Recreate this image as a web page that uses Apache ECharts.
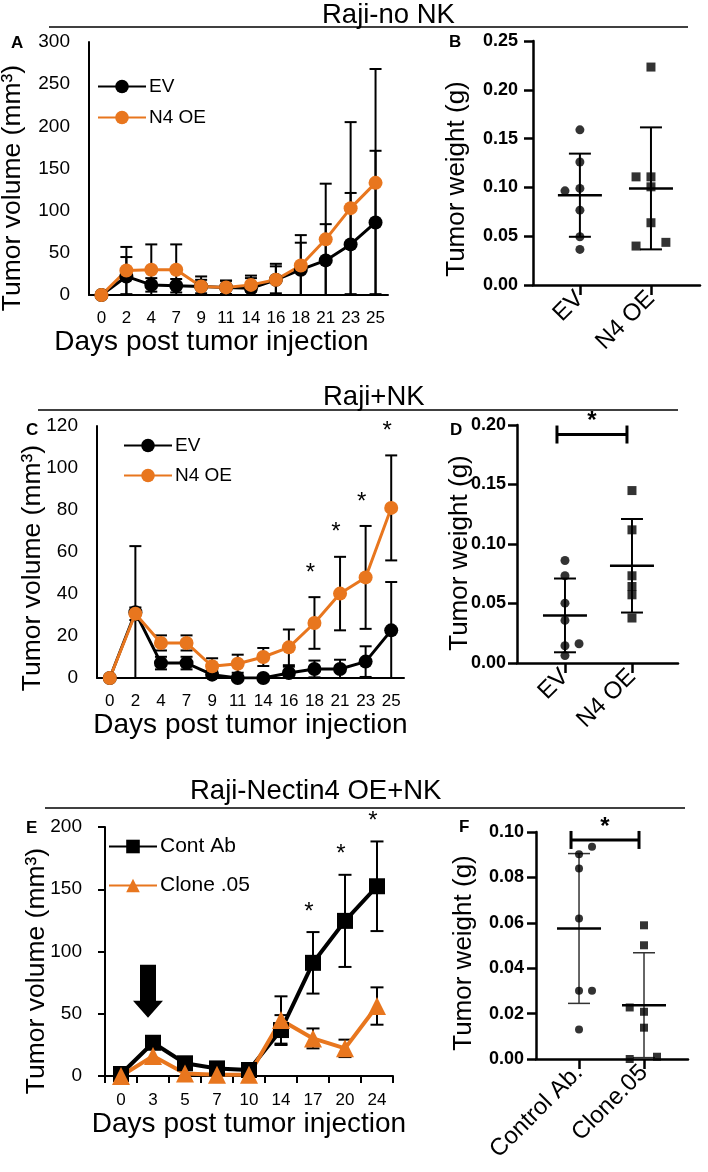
<!DOCTYPE html>
<html><head><meta charset="utf-8">
<script src="https://cdn.jsdelivr.net/npm/echarts@6/dist/echarts.min.js"></script>
<style>html,body{margin:0;padding:0;background:#fff}#c{width:708px;height:1172px}</style>
</head><body><div id="c"></div>
<script>
// ---------- DATA ----------
const daysAC = ['0','2','4','7','9','11','14','16','18','21','23','25'];
// Panel A (Raji-no NK)
const aEV    = [0, 22, 12, 11, 10, 9, 8, 18, 30, 41, 60, 86];
const aEVsd  = [0, 23, 8, 8, 12, 8, 15, 19, 32, 43, 61, 85];
const aN4    = [0, 29, 30, 30, 10, 9, 12, 18, 35, 66, 103, 133];
const aN4sd  = [0, 28, 30, 30, 8, 8, 8, 16, 36, 66, 102, 135];
// Panel C (Raji+NK)
const cEV    = [0, 31.3, 7.1, 7.1, 1.6, 0, 0, 2.4, 4.3, 4.3, 7.8, 22.7];
const cEVsd  = [0, 31.5, 3, 3, 2, 0.5, 0.5, 3, 4, 4.4, 7.3, 23];
const cN4    = [0, 30.6, 16.7, 16.7, 5.6, 6.8, 10, 14.6, 26.2, 40.2, 47.9, 81];
const cN4sd  = [0, 3, 3.6, 3.6, 3.8, 4.3, 4.3, 8.5, 12.3, 17.5, 24.5, 25];
const sigDaysC = ['18','21','23','25'];
// Panel E (Raji-Nectin4 OE+NK)
const daysE  = ['0','3','5','7','10','14','17','20','24'];
const eCont  = [1.6, 26.7, 10.2, 6.1, 4.8, 36.9, 90.9, 124.6, 152.4];
const eContSd= [0, 0, 0, 0, 0, 12, 24.7, 37, 36];
const eClone = [0, 16, 2, 1, 1, 45, 30.2, 22.2, 56.2];
const eCloneSd=[0, 0, 0, 0, 0, 19, 8, 7, 15];
const sigDaysE = ['17','20','24'];
const arrowDay = '3';
// Panel B (tumor weight, Raji-no NK)
const catsBD = ['EV', 'N4 OE'];
const bEV    = [0.159, 0.126, 0.0965, 0.099, 0.0767, 0.0494, 0.0365];
const bEVjit = [0, 0, -0.21, 0, 0, 0, 0];
const bN4    = [0.2233, 0.1108, 0.1108, 0.1006, 0.0638, 0.0399, 0.0437];
const bN4jit = [0, -0.21, 0, 0, 0, -0.21, 0.21];
const bMean  = [0.092, 0.099];
const bSd    = [0.0426, 0.0625];
// Panel D (tumor weight, Raji+NK)
const dEV    = [0.0861, 0.0733, 0.0503, 0.0358, 0.0145, 0.0162, 0.0062];
const dEVjit = [0, 0, 0, 0, 0, 0.21, 0];
const dN4    = [0.1449, 0.1119, 0.0733, 0.0643, 0.0573, 0.0378];
const dN4jit = [0, 0, 0, 0, 0, 0];
const dMean  = [0.040, 0.0817];
const dSd    = [0.031, 0.0393];
const dBracket = 0.192;
// Panel F (tumor weight, Raji-Nectin4 OE+NK)
const catsF  = ['Control Ab.', 'Clone.05'];
const fCtrl  = [0.0935, 0.0902, 0.0839, 0.0619, 0.0301, 0.0301, 0.0130];
const fCtrlJit=[0.2, 0, 0, 0, 0, 0.2, 0];
const fClone = [0.0589, 0.0501, 0.0227, 0.0208, 0.0138, 0.0, 0.001];
const fCloneJit=[0, 0, -0.22, 0, 0, -0.22, 0.2];
const fMean  = [0.0575, 0.0237];
const fSd    = [0.033, 0.0231];
const fBracket = 0.0965;
// Tick labels
const yTicksA = [0, 300, 50];
const yTicksC = [0, 120, 20];
const yTicksE = [0, 200, 50];

// ---------- STYLE ----------
const FONT = "'Liberation Sans', Arial, sans-serif";
const ORANGE = '#E8761E';
const BLACK = '#000';
const VOL_NAME = 'Tumor volume (mm³)';
const WT_NAME = 'Tumor weight (g)';

function errData(vals, sds) {
  return vals.map((v, i) => [i, Math.max(0, v - sds[i]), v + sds[i], sds[i]]);
}
function errRender(capHalf, lw) {
  return function (params, api) {
    const i = api.value(0), lo = api.value(1), hi = api.value(2), sd = api.value(3);
    if (!sd) return null;
    const pH = api.coord([i, hi]), pL = api.coord([i, lo]);
    const st = { stroke: BLACK, lineWidth: lw };
    const ch = [
      { type: 'line', shape: { x1: pH[0], y1: pH[1], x2: pL[0], y2: pL[1] }, style: st },
      { type: 'line', shape: { x1: pH[0] - capHalf, y1: pH[1], x2: pH[0] + capHalf, y2: pH[1] }, style: st }
    ];
    if (lo > 0) ch.push({ type: 'line', shape: { x1: pL[0] - capHalf, y1: pL[1], x2: pL[0] + capHalf, y2: pL[1] }, style: st });
    return { type: 'group', children: ch };
  };
}
function starData(days, sigDays, means, sds) {
  return sigDays.map(d => { const i = days.indexOf(d); return [i, means[i] + sds[i]]; });
}
function starRender(dy, size) {
  return function (params, api) {
    const p = api.coord([api.value(0), api.value(1)]);
    return { type: 'text', x: p[0] - 4, y: p[1] - dy,
      style: { text: '*', fontSize: size, fontFamily: FONT, fill: BLACK, align: 'center', verticalAlign: 'middle' } };
  };
}
function meanSdRender(meanHalf, capHalf, lwMean, lwSd, sdColor) {
  return function (params, api) {
    const x = api.value(0), m = api.value(1), s = api.value(2);
    const pm = api.coord([x, m]), ph = api.coord([x, m + s]), pl = api.coord([x, Math.max(0, m - s)]);
    const sst = { stroke: sdColor, lineWidth: lwSd };
    return { type: 'group', children: [
      { type: 'line', shape: { x1: ph[0], y1: ph[1], x2: pl[0], y2: pl[1] }, style: sst },
      { type: 'line', shape: { x1: ph[0] - capHalf, y1: ph[1], x2: ph[0] + capHalf, y2: ph[1] }, style: sst },
      { type: 'line', shape: { x1: pl[0] - capHalf, y1: pl[1], x2: pl[0] + capHalf, y2: pl[1] }, style: sst },
      { type: 'line', shape: { x1: pm[0] - meanHalf, y1: pm[1], x2: pm[0] + meanHalf, y2: pm[1] }, style: { stroke: BLACK, lineWidth: lwMean } }
    ] };
  };
}
function bracketRender(params, api) {
  const a = api.coord([api.value(0), api.value(2)]), b = api.coord([api.value(1), api.value(2)]);
  const x1 = a[0] - 8, x2 = b[0] - 5, y = a[1];
  const st = { stroke: BLACK, lineWidth: 3 };
  return { type: 'group', children: [
    { type: 'line', shape: { x1: x1, y1: y, x2: x2, y2: y }, style: st },
    { type: 'line', shape: { x1: x1, y1: y - 9, x2: x1, y2: y + 9 }, style: st },
    { type: 'line', shape: { x1: x2, y1: y - 9, x2: x2, y2: y + 9 }, style: st },
    { type: 'text', x: (x1 + x2) / 2, y: y - 13,
      style: { text: '*', fontSize: 24, fontWeight: 'bold', fontFamily: FONT, fill: BLACK, align: 'center', verticalAlign: 'middle' } }
  ] };
}

const grids = [
  { left: 89, top: 42, width: 299, height: 253 },   // A
  { left: 533, top: 41, width: 167, height: 244 },  // B
  { left: 97, top: 426, width: 307, height: 252 },  // C
  { left: 517, top: 425, width: 161, height: 238 }, // D
  { left: 105, top: 827, width: 288, height: 249 }, // E
  { left: 536, top: 832, width: 152, height: 227 }  // F
];

function lineX(gi, data, ticks, nameGap, margin, namePad) {
  return { gridIndex: gi, type: 'category', data: data, boundaryGap: true,
    axisLine: { lineStyle: { color: BLACK, width: 2 } },
    axisTick: ticks ? { show: true, inside: false, length: 7, alignWithLabel: false, lineStyle: { color: BLACK, width: 2 } } : { show: false },
    axisLabel: { color: BLACK, fontSize: 17, fontFamily: FONT, margin: margin, interval: 0 },
    name: 'Days post tumor injection', nameLocation: 'middle', nameGap: nameGap,
    nameTextStyle: { fontSize: 28, color: BLACK, fontFamily: FONT, padding: namePad } };
}
function lineY(gi, t, ticks, margin) {
  return { gridIndex: gi, type: 'value', min: t[0], max: t[1], interval: t[2],
    splitLine: { show: false },
    axisLine: { show: true, lineStyle: { color: BLACK, width: 2 } },
    axisTick: ticks ? { show: true, length: 7, lineStyle: { color: BLACK, width: 2 } } : { show: false },
    axisLabel: { color: BLACK, fontSize: 19, fontFamily: FONT, margin: margin } };
}
function dotX(gi, cats, min, max) {
  return { gridIndex: gi, type: 'value', min: min, max: max,
    splitLine: { show: false },
    axisLine: { lineStyle: { color: BLACK, width: 2.5 } },
    axisTick: { show: true, length: 10, customValues: [1, 2], lineStyle: { color: BLACK, width: 2.5 } },
    axisLabel: { customValues: [1, 2], rotate: 45, margin: 10, color: BLACK, fontSize: 24, fontFamily: FONT,
      formatter: v => cats[Math.round(v) - 1] } };
}
function dotY(gi, max, interval, margin) {
  return { gridIndex: gi, type: 'value', min: 0, max: max, interval: interval,
    splitLine: { show: false },
    axisLine: { show: true, lineStyle: { color: BLACK, width: 2.5 } },
    axisTick: { show: true, length: 9, lineStyle: { color: BLACK, width: 2.5 } },
    axisLabel: { color: BLACK, fontSize: 18, fontWeight: 'bold', fontFamily: FONT, margin: margin, formatter: v => v.toFixed(2) } };
}
// vertical axis titles (rotated text)
function vName(text, cx, cy, fs) {
  return { type: 'text', x: cx, y: cy, rotation: Math.PI / 2,
    style: { text: text, fontSize: fs, fontFamily: FONT, fill: BLACK, align: 'center', verticalAlign: 'middle' } };
}

function lineSeries(name, xi, data, color, symbol, size, lw) {
  return { name: name, type: 'line', xAxisIndex: xi, yAxisIndex: xi, data: data, z: 3,
    symbol: symbol, symbolSize: size, showAllSymbol: true,
    lineStyle: { color: color, width: lw }, itemStyle: { color: color, borderWidth: 0 } };
}
function errSeries(xi, vals, sds, capHalf) {
  return { type: 'custom', xAxisIndex: xi, yAxisIndex: xi, z: 2, silent: true,
    renderItem: errRender(capHalf, 2), encode: { x: 0, y: [1, 2] }, data: errData(vals, sds) };
}
function starSeries(xi, days, sig, vals, sds, dy) {
  return { type: 'custom', xAxisIndex: xi, yAxisIndex: xi, z: 4, silent: true, clip: false,
    renderItem: starRender(dy, 24), encode: { x: 0, y: 1 }, data: starData(days, sig, vals, sds) };
}
function dotSeries(xi, pos, vals, jit, symbol, size) {
  return { type: 'scatter', xAxisIndex: xi, yAxisIndex: xi, symbol: symbol, symbolSize: size, z: 3,
    itemStyle: { color: BLACK }, data: vals.map((v, i) => [pos + jit[i], v]) };
}
function meanSeries(xi, means, sds, lwSd, sdColor) {
  return { type: 'custom', xAxisIndex: xi, yAxisIndex: xi, z: 2, silent: true,
    renderItem: meanSdRender(22, 11, 2.5, lwSd, sdColor), encode: { x: 0, y: 1 },
    data: means.map((m, i) => [i + 1, m, sds[i]]) };
}
function bracketSeries(xi, level) {
  return { type: 'custom', xAxisIndex: xi, yAxisIndex: xi, z: 4, silent: true, clip: false,
    renderItem: bracketRender, encode: { x: [0, 1], y: 2 }, data: [[1, 2, level]] };
}

const titleStyle = { fontSize: 27.5, fontWeight: 'normal', color: BLACK, fontFamily: FONT };
const letterStyle = { fontSize: 17, fontWeight: 'bold', color: BLACK, fontFamily: FONT };
const titles = [
  { text: 'Raji-no NK', left: 322, top: 1, padding: 0, textStyle: titleStyle },
  { text: 'Raji+NK', left: 323, top: 383, padding: 0, textStyle: titleStyle },
  { text: 'Raji-Nectin4 OE+NK', left: 190, top: 777, padding: 0, textStyle: titleStyle },
  { text: 'A', left: 11, top: 35, padding: 0, textStyle: letterStyle },
  { text: 'B', left: 449, top: 34, padding: 0, textStyle: letterStyle },
  { text: 'C', left: 26, top: 422, padding: 0, textStyle: letterStyle },
  { text: 'D', left: 450, top: 422, padding: 0, textStyle: letterStyle },
  { text: 'E', left: 26, top: 820, padding: 0, textStyle: letterStyle },
  { text: 'F', left: 459, top: 819, padding: 0, textStyle: letterStyle }
];

function legend(names, left, top, gap, fs) {
  return { data: names, orient: 'vertical', left: left, top: top, itemGap: gap, itemWidth: 48, itemHeight: 17,
    padding: 0, selectedMode: false, textStyle: { fontSize: fs, color: BLACK, fontFamily: FONT, padding: [0, 0, 0, -2] } };
}

const option = {
  animation: false,
  backgroundColor: '#fff',
  title: titles,
  graphic: [
    { type: 'line', shape: { x1: 49, y1: 27, x2: 688, y2: 27 }, style: { stroke: BLACK, lineWidth: 1.5 } },
    { type: 'line', shape: { x1: 38, y1: 410, x2: 678, y2: 410 }, style: { stroke: BLACK, lineWidth: 1.5 } },
    { type: 'line', shape: { x1: 45, y1: 808, x2: 685, y2: 808 }, style: { stroke: BLACK, lineWidth: 1.5 } },
    vName(VOL_NAME, 13, 188, 26.5),
    vName(VOL_NAME, 33, 568, 26.5),
    vName(VOL_NAME, 37, 971, 26.5),
    vName(WT_NAME, 457, 179, 26),
    vName(WT_NAME, 460, 553, 26),
    vName(WT_NAME, 464, 953, 26)
  ],
  legend: [
    legend(['EV', 'N4 OE'], 97, 77, 12, 19),
    legend(['EV', 'N4 OE'], 123, 436, 11, 19),
    legend(['Cont Ab', 'Clone .05'], 108, 836, 18, 21)
  ],
  grid: grids,
  xAxis: [
    lineX(0, daysAC, false, 32, 15, [0, 54, 0, 0]),
    dotX(1, catsBD, 0.34, 2.69),
    lineX(2, daysAC, false, 32, 15, [0, 0, 0, 0]),
    dotX(3, catsBD, 0.284, 2.687),
    lineX(4, daysE, true, 29, 16, [0, 0, 0, 0]),
    dotX(5, catsF, 0.338, 2.677)
  ],
  yAxis: [
    lineY(0, yTicksA, false, 19),
    dotY(1, 0.25, 0.05, 15),
    lineY(2, yTicksC, false, 19),
    dotY(3, 0.20, 0.05, 11),
    lineY(4, yTicksE, true, 23),
    dotY(5, 0.10, 0.02, 12)
  ],
  series: [
    // A
    errSeries(0, aEV, aEVsd, 6),
    errSeries(0, aN4, aN4sd, 6),
    lineSeries('EV', 0, aEV, BLACK, 'circle', 14, 3),
    lineSeries('N4 OE', 0, aN4, ORANGE, 'circle', 14, 3),
    // B
    meanSeries(1, bMean, bSd, 2, BLACK),
    dotSeries(1, 1, bEV, bEVjit, 'circle', 9),
    dotSeries(1, 2, bN4, bN4jit, 'rect', 9),
    // C
    errSeries(2, cEV, cEVsd, 6),
    errSeries(2, cN4, cN4sd, 6),
    lineSeries('EV', 2, cEV, BLACK, 'circle', 14, 3),
    lineSeries('N4 OE', 2, cN4, ORANGE, 'circle', 14, 3),
    starSeries(2, daysAC, sigDaysC, cN4, cN4sd, 24),
    // D
    meanSeries(3, dMean, dSd, 2, BLACK),
    dotSeries(3, 1, dEV, dEVjit, 'circle', 9),
    dotSeries(3, 2, dN4, dN4jit, 'rect', 9),
    bracketSeries(3, dBracket),
    // E
    errSeries(4, eCont, eContSd, 6.5),
    errSeries(4, eClone, eCloneSd, 6.5),
    Object.assign(lineSeries('Cont Ab', 4, eCont, BLACK, 'rect', 16, 4), {
      markPoint: { symbol: 'path://M7,0 L23,0 L23,36 L30,36 L15,53 L0,36 L7,36 Z', symbolSize: [30, 53],
        symbolOffset: [-5, 0], symbolKeepAspect: false, itemStyle: { color: BLACK }, label: { show: false },
        data: [{ coord: [arrowDay, 68] }] } }),
    lineSeries('Clone .05', 4, eClone, ORANGE, 'triangle', 18, 4),
    starSeries(4, daysE, sigDaysE, eCont, eContSd, 20),
    // F
    meanSeries(5, fMean, fSd, 1.5, '#333'),
    dotSeries(5, 1, fCtrl, fCtrlJit, 'circle', 8),
    dotSeries(5, 2, fClone, fCloneJit, 'rect', 8),
    bracketSeries(5, fBracket)
  ]
};

const chart = echarts.init(document.getElementById('c'), null, { renderer: 'canvas' });
chart.setOption(option);
</script></body></html>
